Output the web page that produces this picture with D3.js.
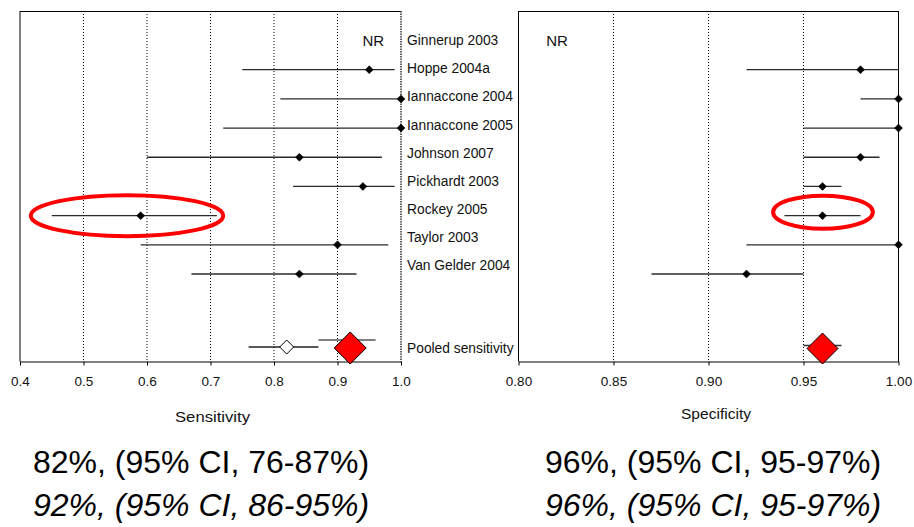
<!DOCTYPE html>
<html><head><meta charset="utf-8">
<script src="https://cdn.jsdelivr.net/npm/d3@7"></script>
<style>
html,body{margin:0;padding:0;background:#fff;}
svg{display:block;font-family:"Liberation Sans",Arial,sans-serif;}
</style></head><body>
<svg id="c" width="914" height="527"></svg>
<script>
// ---- data ----
const studies = ["Ginnerup 2003","Hoppe 2004a","Iannaccone 2004","Iannaccone 2005","Johnson 2007","Pickhardt 2003","Rockey 2005","Taylor 2003","Van Gelder 2004"];
const pooledLabel = "Pooled sensitivity";
const sensPoint = [null,0.95,1.00,1.00,0.84,0.94,0.59,0.90,0.84];
const sensLow   = [null,0.75,0.81,0.72,0.60,0.83,0.45,0.59,0.67];
const sensHigh  = [null,0.99,1.00,1.00,0.97,0.99,0.71,0.98,0.93];
const specPoint = [null,0.98,1.00,1.00,0.98,0.96,0.96,1.00,0.92];
const specLow   = [null,0.92,0.98,0.95,0.95,0.95,0.94,0.92,0.87];
const specHigh  = [null,1.00,1.00,1.00,0.99,0.97,0.98,1.00,0.95];
const sensPooledA = [0.82,0.76,0.87];   // white diamond
const sensPooledB = [0.92,0.87,0.96];   // red diamond
const specPooled  = [0.96,0.95,0.97];   // red diamond
const sensTicks = [0.4,0.5,0.6,0.7,0.8,0.9,1.0];
const specTicks = [0.80,0.85,0.90,0.95,1.00];
const sensTitle = "Sensitivity", specTitle = "Specificity";
const sensSummary = ["82%, (95% CI, 76-87%)","92%, (95% CI, 86-95%)"];
const specSummary = ["96%, (95% CI, 95-97%)","96%, (95% CI, 95-97%)"];
const sensHighlight = [0.417,0.720];
const specHighlight = [0.934,0.9865];
const highlightRow = 6;
const pooledRow = 10.5;

const svg = d3.select("#c");
const y = d3.scaleLinear().domain([0, pooledRow]).range([40.5, 347]);
const yLabel = d3.scaleLinear().domain([0, 8]).range([40.5, 265]);
const topY = 11, axisY = 361.5;

function diamond(g, cx, cy, r, fill, stroke, sw){
  g.append("path")
   .attr("d", `M${cx},${cy-r}L${cx+r},${cy}L${cx},${cy+r}L${cx-r},${cy}Z`)
   .attr("fill", fill).attr("stroke", stroke).attr("stroke-width", sw);
}

function panel(x, ticks, fmt, grid, points, lows, highs, dottedRight){
  const g = svg.append("g");
  const [x0,x1] = x.range();
  g.selectAll("line.grid").data(grid).join("line")
    .attr("x1", d=>x(d)).attr("x2", d=>x(d)).attr("y1", topY).attr("y2", axisY)
    .attr("stroke", "#000").attr("stroke-width", 1).attr("stroke-dasharray", "1,2");
  g.append("line").attr("x1", x0).attr("x2", x0).attr("y1", topY).attr("y2", axisY).attr("stroke","#000");
  g.append("line").attr("x1", x0).attr("x2", x1).attr("y1", topY+0.5).attr("y2", topY+0.5).attr("stroke","#000");
  if (dottedRight) {
    g.append("line").attr("x1", x1).attr("x2", x1).attr("y1", topY).attr("y2", axisY)
      .attr("stroke","#333").attr("stroke-width",1.5).attr("stroke-dasharray","1.5,1");
  } else {
    g.append("line").attr("x1", x1).attr("x2", x1).attr("y1", topY).attr("y2", axisY).attr("stroke","#000");
  }
  const ax = g.append("g").attr("transform", `translate(0,${axisY})`)
    .call(d3.axisBottom(x).tickValues(ticks).tickFormat(d3.format(fmt)).tickSize(4).tickSizeOuter(0).tickPadding(11));
  ax.select(".domain").attr("stroke","#000");
  ax.selectAll("text").attr("font-size","13.5px").attr("fill","#111").attr("font-family","Liberation Sans, Arial, sans-serif");
  ax.selectAll("line").attr("stroke","#000");
  points.forEach((p,i)=>{
    if (p === null) return;
    g.append("line").attr("x1", x(lows[i])).attr("x2", x(highs[i]))
      .attr("y1", y(i)).attr("y2", y(i)).attr("stroke","#2a2a2a").attr("stroke-width",1.3);
    diamond(g, x(p), y(i), 4, "#000", "#000", 0.5);
  });
  return g;
}

const xs = d3.scaleLinear().domain([0.4,1.0]).range([20,401]);
const xp = d3.scaleLinear().domain([0.80,1.00]).range([518.5,898.5]);

const gs = panel(xs, sensTicks, ".1f", [0.5,0.6,0.7,0.8,0.9], sensPoint, sensLow, sensHigh, true);
const gp = panel(xp, specTicks, ".2f", [0.85,0.90,0.95], specPoint, specLow, specHigh, false);

gs.append("text").attr("x", xs(0.95)+4).attr("y", yLabel(0)).attr("dy","0.35em").attr("text-anchor","middle")
  .attr("font-size","15px").attr("fill","#111").text("NR");
gp.append("text").attr("x", xp(0.8)+38.5).attr("y", yLabel(0)).attr("dy","0.35em").attr("text-anchor","middle")
  .attr("font-size","15px").attr("fill","#111").text("NR");

const py = y(pooledRow);
gs.append("line").attr("x1", xs(sensPooledA[1])).attr("x2", xs(sensPooledA[2])).attr("y1", py).attr("y2", py)
  .attr("stroke","#222").attr("stroke-width",1.6);
diamond(gs, xs(sensPooledA[0]), py, 7, "#fff", "#000", 1);
gs.append("line").attr("x1", xs(sensPooledB[1])).attr("x2", xs(sensPooledB[2])).attr("y1", py-7).attr("y2", py-7)
  .attr("stroke","#000").attr("stroke-width",1.2);
diamond(gs, xs(sensPooledB[0]), py+1, 16, "#ff0000", "#000", 1);

gp.append("line").attr("x1", xp(specPooled[1])).attr("x2", xp(specPooled[2])).attr("y1", py-1.5).attr("y2", py-1.5)
  .attr("stroke","#333").attr("stroke-width",1.6);
diamond(gp, xp(specPooled[0]), py+1.5, 15.5, "#ff0000", "#000", 1);

function ellipse(x, ext, cy, ry){
  svg.append("ellipse")
    .attr("cx", (x(ext[0])+x(ext[1]))/2).attr("cy", cy)
    .attr("rx", (x(ext[1])-x(ext[0]))/2).attr("ry", ry)
    .attr("fill","none").attr("stroke","#ff0000").attr("stroke-width",4);
}
ellipse(xs, sensHighlight, y(highlightRow), 20.5);
ellipse(xp, specHighlight, y(highlightRow)-3.5, 16.5);

const labels = svg.append("g").attr("font-size","13.8px").attr("fill","#111");
studies.forEach((s,i)=>{
  labels.append("text").attr("x",407).attr("y",yLabel(i)).attr("dy","0.35em").text(s);
});
labels.append("text").attr("x",407).attr("y",py+1).attr("dy","0.35em").text(pooledLabel);

svg.append("text").attr("x",212.5).attr("y",422).attr("text-anchor","middle")
  .attr("font-size","15.5px").attr("fill","#111")
  .attr("textLength",75).attr("lengthAdjust","spacingAndGlyphs").text(sensTitle);
svg.append("text").attr("x",716).attr("y",419).attr("text-anchor","middle")
  .attr("font-size","15.5px").attr("fill","#111")
  .attr("textLength",70).attr("lengthAdjust","spacingAndGlyphs").text(specTitle);

[[sensSummary,33],[specSummary,545]].forEach(([arr,x])=>{
  svg.append("text").attr("x",x).attr("y",473).attr("font-size","32px").attr("fill","#000").text(arr[0]);
  svg.append("text").attr("x",x).attr("y",515.5).attr("font-size","32px").attr("font-style","italic").attr("fill","#000").text(arr[1]);
});
</script>
</body></html>
